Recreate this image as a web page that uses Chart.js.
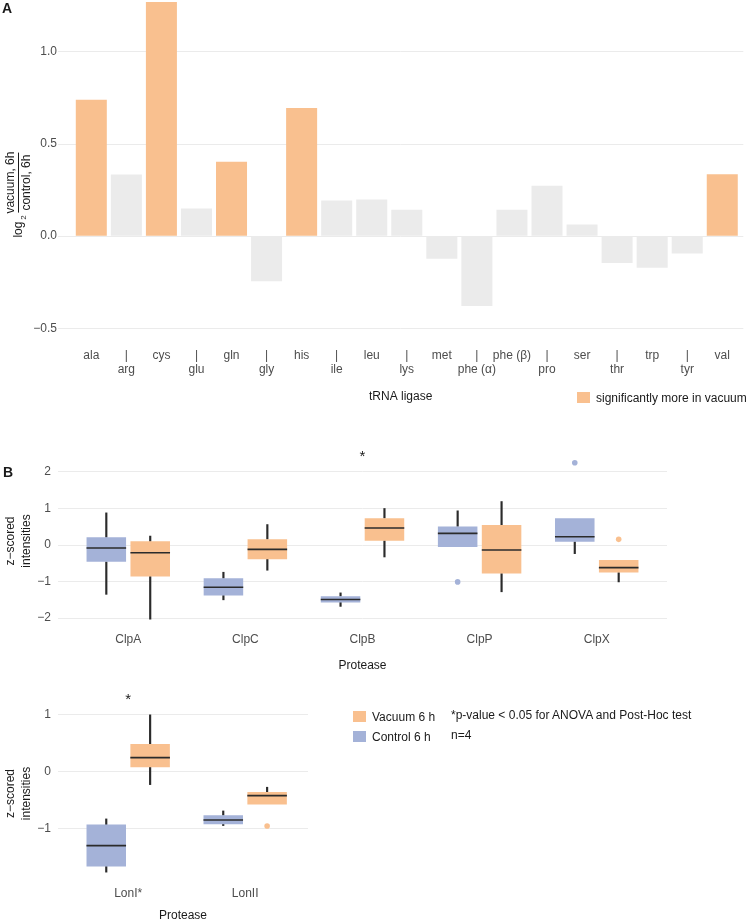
<!DOCTYPE html>
<html>
<head>
<meta charset="utf-8">
<script src="https://cdn.jsdelivr.net/npm/chart.js@4.4.1/dist/chart.umd.min.js"></script>
<style>
  body { margin: 0; background: #fff; width: 747px; height: 922px; position: relative; overflow: hidden;
         font-family: "Liberation Sans", Arial, sans-serif; color: #1a1a1a; }
  canvas { position: absolute; left: 0; }
  .tag { position: absolute; font-weight: bold; font-size: 14px; }
  .leg { position: absolute; font-size: 12px; line-height: 14px; white-space: nowrap; }
  .sw { position: absolute; width: 13px; height: 11px; }
</style>
</head>
<body>
<canvas id="ligase" width="747" height="417" style="top:-7px"></canvas>
<canvas id="clp" width="747" height="235" style="top:440px"></canvas>
<canvas id="lon" width="747" height="233" style="top:690px"></canvas>
<div class="tag" style="left:2px;top:0px">A</div>
<div class="tag" style="left:3px;top:464px">B</div>
<div id="legendA"></div>
<div id="legendB"></div>

<script>
// ---- panel A: tRNA ligases, log2(vacuum / control) ----
const ligaseLabels = ['ala', 'arg', 'cys', 'glu', 'gln', 'gly', 'his', 'ile', 'leu', 'lys',
  'met', 'phe (α)', 'phe (β)', 'pro', 'ser', 'thr', 'trp', 'tyr', 'val'];
const ligaseLog2 = [0.74, 0.334, 1.27, 0.15, 0.404, -0.244, 0.695, 0.193, 0.199, 0.143,
  -0.123, -0.379, 0.144, 0.274, 0.063, -0.146, -0.171, -0.094, 0.336];
const ligaseSignificant = [1, 0, 1, 0, 1, 0, 1, 0, 0, 0, 0, 0, 0, 0, 0, 0, 0, 0, 1];
const ligaseTicks = [-0.5, 0, 0.5, 1.0];

// ---- panel B: protease z-scores, each group is [low whisker, q1, median, q3, high whisker] ----
const seriesNames = ['Vacuum 6 h', 'Control 6 h'];
const clpLabels = ['ClpA', 'ClpC', 'ClpB', 'ClpP', 'ClpX'];
const clpControl = [
  [-1.35, -0.46, -0.08, 0.21, 0.88],
  [-1.5, -1.38, -1.155, -0.91, -0.745],
  [-1.68, -1.57, -1.49, -1.4, -1.31],
  [-0.055, -0.055, 0.318, 0.51, 0.936],
  [-0.236, 0.09, 0.227, 0.736, 0.736]
];
const clpVacuum = [
  [-2.03, -0.86, -0.21, 0.10, 0.245],
  [-0.69, -0.39, -0.12, 0.16, 0.56],
  [-0.327, 0.118, 0.464, 0.736, 1.0],
  [-1.28, -0.78, -0.136, 0.545, 1.19],
  [-1.01, -0.755, -0.62, -0.41, -0.41]
];
const clpControlOutliers = [[], [], [], [-1.01], [2.25]];
const clpVacuumOutliers = [[], [], [], [], [0.155]];
const clpStarLabels = ['ClpB'];
const clpStarValues = [2.4];
const clpTicks = [-2, -1, 0, 1, 2];

const lonLabels = ['LonI*', 'LonII'];
const lonControl = [
  [-1.77, -1.67, -1.304, -0.936, -0.836],
  [-0.953, -0.93, -0.854, -0.772, -0.696]
];
const lonVacuum = [
  [-0.234, 0.07, 0.24, 0.48, 0.99],
  [-0.585, -0.585, -0.427, -0.363, -0.28]
];
const lonControlOutliers = [[], []];
const lonVacuumOutliers = [[], [-0.96]];
const lonStarLabels = ['LonI*'];
const lonStarValues = [1.25];
const lonTicks = [-1, 0, 1];

const ORANGE = '#F9C08F';
const BLUE = '#A4B2D8';
const GREY = '#EBEBEB';
const INK = '#2B2B2B';
const DODGE = 0.1875;

Chart.defaults.font.family = '"Liberation Sans", Arial, sans-serif';
Chart.defaults.font.size = 12;
Chart.defaults.color = '#4D4D4D';
Chart.defaults.animation = false;
Chart.defaults.plugins.legend.display = false;
Chart.defaults.plugins.tooltip.enabled = false;

const fixedTicks = values => scale => { scale.ticks = values.map(v => ({ value: v })); };
const minus = v => String(v).replace('-', '\u2212');

// log2 of a stacked fraction, drawn rotated next to the y axis
const ratioTitle = {
  id: 'ratioTitle',
  afterDraw(chart) {
    const { ctx, chartArea } = chart;
    const cy = (chartArea.top + chartArea.bottom) / 2 + 32;
    ctx.save();
    ctx.translate(18, cy);
    ctx.rotate(-Math.PI / 2);
    ctx.fillStyle = '#1a1a1a';
    ctx.strokeStyle = '#1a1a1a';
    ctx.textAlign = 'center';
    ctx.textBaseline = 'middle';
    ctx.font = '12px "Liberation Sans"';
    ctx.fillText('log', -31, 1);
    ctx.font = '8px "Liberation Sans"';
    ctx.fillText('2', -19, 6);
    ctx.font = '12px "Liberation Sans"';
    ctx.fillText('vacuum, 6h', 16, -7);
    ctx.fillText('control, 6h', 16, 8.5);
    ctx.lineWidth = 1;
    ctx.beginPath();
    ctx.moveTo(-14, 0.5);
    ctx.lineTo(46, 0.5);
    ctx.stroke();
    ctx.restore();
  }
};

new Chart(document.getElementById('ligase'), {
  type: 'bar',
  data: {
    datasets: [{
      data: ligaseLabels.map((l, i) => ({ x: i + 1, y: ligaseLog2[i] })),
      backgroundColor: ligaseSignificant.map(s => s ? ORANGE : GREY),
      categoryPercentage: 1,
      barPercentage: 0.885,
      grouped: false
    }]
  },
  options: {
    responsive: false,
    layout: { padding: { top: 0, right: 2, left: 0, bottom: 0 } },
    scales: {
      x: {
        type: 'linear', min: 0.05, max: 19.6, offset: false,
        grid: { display: false, drawTicks: false, offset: false },
        border: { display: false },
        afterBuildTicks: fixedTicks(ligaseLabels.map((l, i) => i + 1)),
        afterFit: s => { s.height = 78; },
        ticks: {
          autoSkip: false, maxRotation: 0, padding: 17,
          font: { size: 12, lineHeight: 1.17 },
          callback: v => {
            const i = Math.round(v) - 1;
            return i % 2 ? ['|', ligaseLabels[i]] : ligaseLabels[i];
          }
        },
        title: { display: true, text: 'tRNA ligase', color: '#1a1a1a', padding: { top: 0, bottom: 6 }, font: { size: 12 } }
      },
      y: {
        min: -0.52, max: 1.275,
        afterBuildTicks: fixedTicks(ligaseTicks),
        afterFit: s => { s.width = 58; },
        grid: { color: GREY, drawTicks: false },
        border: { display: false },
        ticks: { padding: 1, callback: v => minus(v.toFixed(1)) }
      }
    }
  },
  plugins: [ratioTitle]
});

function starPlugin(labels, starLabels, starValues) {
  return {
    id: 'stars',
    afterDatasetsDraw(chart) {
      const { ctx, scales: { x, y } } = chart;
      ctx.save();
      ctx.fillStyle = '#1a1a1a';
      ctx.font = '15px "Liberation Sans"';
      ctx.textAlign = 'center';
      ctx.textBaseline = 'middle';
      starLabels.forEach((l, i) => {
        ctx.fillText('*', x.getPixelForValue(labels.indexOf(l) + 1), y.getPixelForValue(starValues[i]));
      });
      ctx.restore();
    }
  };
}

function boxChart(id, labels, control, vacuum, controlOut, vacuumOut, stars, yMin, yMax, yTicks, xMax, pad) {
  const groups = [
    { stats: control, out: controlOut, shift: -DODGE, color: BLUE, name: seriesNames[1] },
    { stats: vacuum, out: vacuumOut, shift: DODGE, color: ORANGE, name: seriesNames[0] }
  ];
  const at = (g, i) => i + 1 + g.shift;
  const medians = [], whiskers = [];
  groups.forEach(g => g.stats.forEach((s, i) => {
    medians.push({ x: at(g, i), y: s[2] });
    if (s[0] < s[1]) whiskers.push({ x: at(g, i), y: [s[0], s[1]] });
    if (s[4] > s[3]) whiskers.push({ x: at(g, i), y: [s[3], s[4]] });
  }));
  const datasets = [
    { type: 'scatter', data: medians, pointStyle: 'line', radius: 19.8,
      borderColor: INK, borderWidth: 1.6, backgroundColor: INK }
  ];
  groups.forEach(g => datasets.push({
    type: 'scatter', label: g.name + ' outliers',
    data: g.out.flatMap((vals, i) => vals.map(v => ({ x: at(g, i), y: v }))),
    pointStyle: 'circle', radius: 2.8, borderWidth: 0, backgroundColor: g.color
  }));
  groups.forEach(g => datasets.push({
    type: 'bar', label: g.name,
    data: g.stats.map((s, i) => ({ x: at(g, i), y: [s[1], s[3]] })),
    backgroundColor: g.color, grouped: false, categoryPercentage: 1, barPercentage: 0.9
  }));
  datasets.push({
    type: 'bar', data: whiskers, backgroundColor: INK, grouped: false, barThickness: 1.5
  });

  return new Chart(document.getElementById(id), {
    type: 'bar',
    data: { datasets },
    options: {
      responsive: false,
      layout: { autoPadding: false, padding: pad },
      scales: {
        x: {
          type: 'linear', min: 0.4, max: xMax, offset: false,
          grid: { display: false, drawTicks: false, offset: false },
          border: { display: false },
          afterBuildTicks: fixedTicks(labels.map((l, i) => i + 1)),
          afterFit: s => { s.height = pad.axis; },
          ticks: { autoSkip: false, maxRotation: 0, padding: pad.tick,
                   callback: v => labels[Math.round(v) - 1] },
          title: { display: true, text: 'Protease', color: '#1a1a1a',
                   padding: { top: 0, bottom: pad.title }, font: { size: 12 } }
        },
        y: {
          min: yMin, max: yMax,
          afterBuildTicks: fixedTicks(yTicks),
          afterFit: s => { s.width = 58; },
          grid: { color: GREY, drawTicks: false },
          border: { display: false },
          ticks: { padding: 7, callback: v => minus(v) },
          title: { display: true, text: ['z\u2212scored', 'intensities'], color: '#1a1a1a',
                   padding: { top: 3, bottom: 0 }, font: { size: 12, lineHeight: 1.33 } }
        }
      }
    },
    plugins: [starPlugin(labels, stars[0], stars[1])]
  });
}

boxChart('clp', clpLabels, clpControl, clpVacuum, clpControlOutliers, clpVacuumOutliers,
  [clpStarLabels, clpStarValues], -2.244, 2.464, clpTicks, 5.6,
  { top: 15, right: 80, left: 0, bottom: 0, axis: 48, tick: 5, title: 2 });

boxChart('lon', lonLabels, lonControl, lonVacuum, lonControlOutliers, lonVacuumOutliers,
  [lonStarLabels, lonStarValues], -1.908, 1.128, lonTicks, 2.537,
  { top: 17, right: 439, left: 0, bottom: 0, axis: 43, tick: 6, title: 0 });

// ---- legends (HTML text) ----
document.getElementById('legendA').innerHTML =
  '<div class="sw" style="left:577px;top:392px;background:' + ORANGE + '"></div>' +
  '<div class="leg" style="left:596px;top:391px">significantly more in vacuum</div>';

const legendColors = [ORANGE, BLUE];
const legendNotes = ['*p-value < 0.05 for ANOVA and Post-Hoc test', 'n=4'];
document.getElementById('legendB').innerHTML = seriesNames.map((name, i) =>
  '<div class="sw" style="left:353px;top:' + (711 + i * 20) + 'px;background:' + legendColors[i] + '"></div>' +
  '<div class="leg" style="left:372px;top:' + (710 + i * 20) + 'px">' + name + '</div>' +
  '<div class="leg" style="left:451px;top:' + (708 + i * 20) + 'px">' + legendNotes[i].replace('<', '&lt;') + '</div>'
).join('');
</script>
</body>
</html>
